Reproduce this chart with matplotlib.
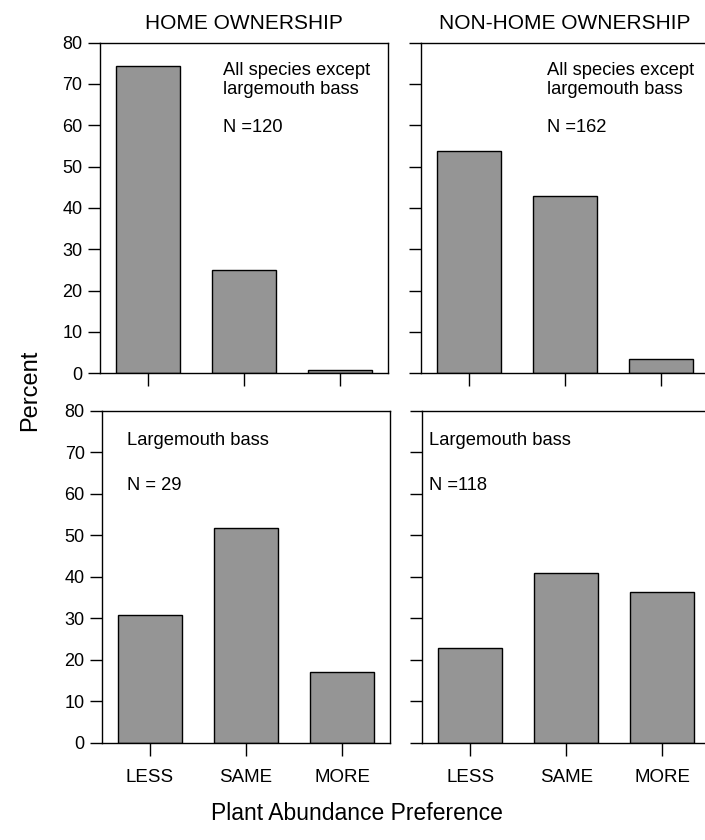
import matplotlib
matplotlib.use("Agg")
import matplotlib.pyplot as plt
import numpy as np

plt.rcParams['font.family'] = ['Liberation Sans', 'DejaVu Sans']

categories = ["LESS", "SAME", "MORE"]
home_other = [74.3, 25.0, 0.8]
nonhome_other = [53.9, 42.9, 3.5]
home_bass = [30.9, 51.8, 17.1]
nonhome_bass = [22.8, 40.8, 36.4]

panel_titles = ["HOME OWNERSHIP", "NON-HOME OWNERSHIP"]
panel_notes = [
    ["All species except", "largemouth bass", "N =120"],
    ["All species except", "largemouth bass", "N =162"],
    ["Largemouth bass", "N = 29"],
    ["Largemouth bass", "N =118"],
]

bar_color = "#959595"

fig = plt.figure(figsize=(7.05, 8.4), dpi=100)

# [left, bottom, width, height] in figure fractions
ax_tl = fig.add_axes([0.1418, 0.5556, 0.4085, 0.3936])
ax_tr = fig.add_axes([0.5972, 0.5556, 0.4085, 0.3936])
ax_bl = fig.add_axes([0.1447, 0.1158, 0.4085, 0.3952])
ax_br = fig.add_axes([0.5990, 0.1158, 0.4085, 0.3952])

x = np.arange(len(categories))
panels = [(ax_tl, home_other), (ax_tr, nonhome_other),
          (ax_bl, home_bass), (ax_br, nonhome_bass)]

for i, (ax, vals) in enumerate(panels):
    ax.bar(x, vals, width=0.667, color=bar_color, edgecolor="black", linewidth=1.0)
    ax.set_xlim(-0.5, 2.5)
    ax.set_ylim(0, 80)
    ax.set_yticks(np.arange(0, 81, 10))
    ax.set_xticks(x)
    ax.tick_params(axis="both", direction="out", length=9, width=1.0,
                   labelsize=13, colors="black")
    for sp in ax.spines.values():
        sp.set_linewidth(1.0)
    if i in (1, 3):
        ax.set_yticklabels([])
    if i in (0, 1):
        ax.set_xticklabels([])
    else:
        ax.set_xticklabels(categories, fontsize=13.5)
        ax.tick_params(axis="x", pad=10)

note_size = 13.2

# annotation text inside panels
ax_tl.text(0.427, 0.917, panel_notes[0][0], transform=ax_tl.transAxes, fontsize=note_size, va="center")
ax_tl.text(0.427, 0.857, panel_notes[0][1], transform=ax_tl.transAxes, fontsize=note_size, va="center")
ax_tl.text(0.427, 0.742, panel_notes[0][2], transform=ax_tl.transAxes, fontsize=note_size, va="center")

ax_tr.text(0.436, 0.917, panel_notes[1][0], transform=ax_tr.transAxes, fontsize=note_size, va="center")
ax_tr.text(0.436, 0.857, panel_notes[1][1], transform=ax_tr.transAxes, fontsize=note_size, va="center")
ax_tr.text(0.436, 0.742, panel_notes[1][2], transform=ax_tr.transAxes, fontsize=note_size, va="center")

ax_bl.text(0.086, 0.909, panel_notes[2][0], transform=ax_bl.transAxes, fontsize=note_size, va="center")
ax_bl.text(0.086, 0.776, panel_notes[2][1], transform=ax_bl.transAxes, fontsize=note_size, va="center")

ax_br.text(0.025, 0.909, panel_notes[3][0], transform=ax_br.transAxes, fontsize=note_size, va="center")
ax_br.text(0.025, 0.776, panel_notes[3][1], transform=ax_br.transAxes, fontsize=note_size, va="center")

# column titles
ax_tl.set_title(panel_titles[0], fontsize=15, pad=10)
ax_tr.set_title(panel_titles[1], fontsize=15, pad=10)

fig.text(0.043, 0.535, "Percent", rotation=90, fontsize=17, ha="center", va="center")
fig.text(0.507, 0.032, "Plant Abundance Preference", fontsize=16.5, ha="center", va="center")

fig.savefig("out.png", dpi=100)
